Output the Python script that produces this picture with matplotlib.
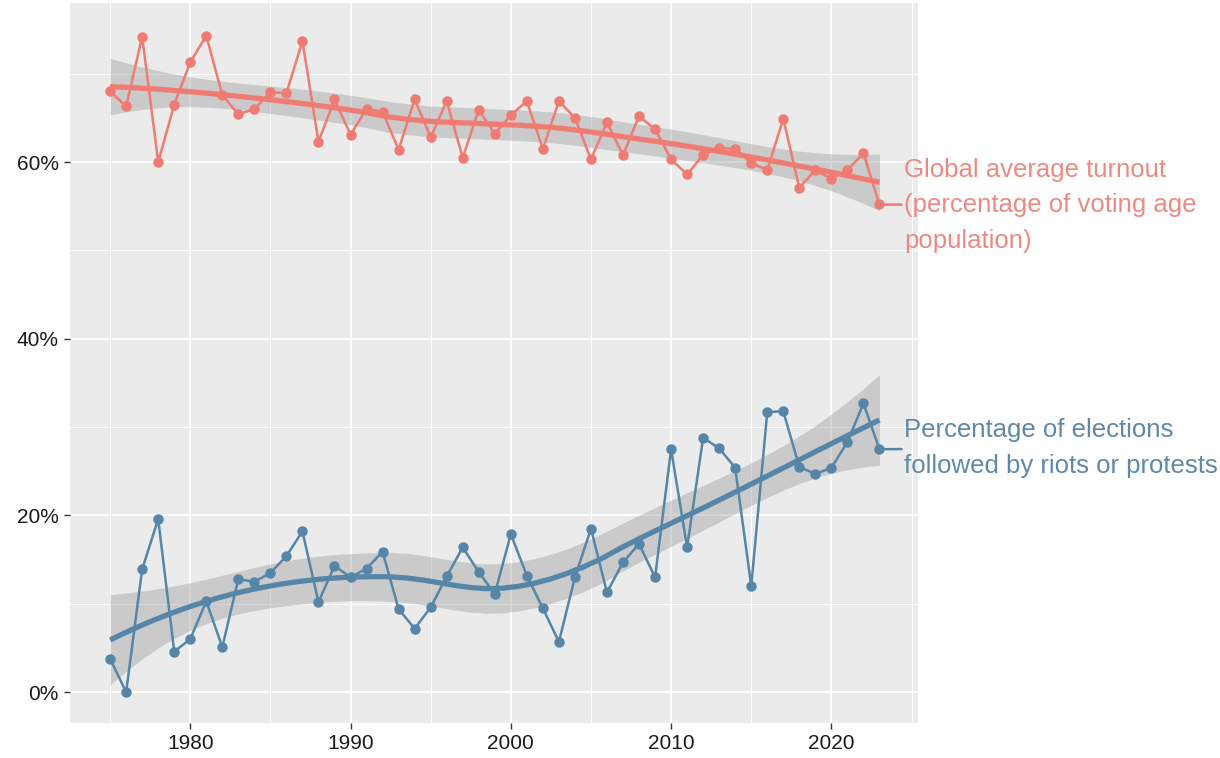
import numpy as np
import matplotlib
matplotlib.use("Agg")
import matplotlib.pyplot as plt
from matplotlib.ticker import MultipleLocator, FuncFormatter

plt.rcParams['font.family'] = ['Liberation Sans', 'DejaVu Sans']

years = list(range(1975, 2024))

turnout = [68.0, 66.3, 74.2, 60.0, 66.5, 71.3, 74.3, 67.6, 65.4, 66.0,
           67.9, 67.8, 73.7, 62.3, 67.1, 63.1, 66.0, 65.7, 61.4, 67.1,
           62.8, 66.9, 60.5, 65.9, 63.2, 65.3, 66.9, 61.5, 66.9, 65.0,
           60.3, 64.5, 60.8, 65.2, 63.7, 60.3, 58.6, 60.8, 61.6, 61.5,
           59.9, 59.1, 64.9, 57.1, 59.1, 58.1, 59.1, 61.0, 55.2]

protests = [3.8, 0.0, 13.9, 19.6, 4.6, 6.0, 10.3, 5.1, 12.8, 12.5,
            13.5, 15.4, 18.2, 10.2, 14.3, 13.0, 14.0, 15.9, 9.4, 7.2,
            9.6, 13.1, 16.4, 13.6, 11.1, 17.9, 13.2, 9.5, 5.7, 13.0,
            18.5, 11.3, 14.7, 16.8, 13.0, 27.5, 16.4, 28.8, 27.6, 25.4,
            12.0, 31.7, 31.8, 25.5, 24.7, 25.4, 28.3, 32.7, 27.5]

labels = ["Global average turnout\n(percentage of voting age\npopulation)",
          "Percentage of elections\nfollowed by riots or protests"]
colors = ["#F07B72", "#5586A8"]
text_colors = ["#EA8A82", "#5F89A6"]


def loess_row(x, x0, span=0.75):
    n = len(x)
    q = int(np.floor(n * span))
    d = np.abs(x - x0)
    h = np.sort(d)[q - 1]
    w = np.clip(1 - (d / h) ** 3, 0, None) ** 3
    X = np.column_stack([np.ones(n), x - x0, (x - x0) ** 2])
    XtW = X.T * w
    A = np.linalg.solve(XtW @ X, XtW)
    return A[0]


def loess(x, y, grid):
    x = np.asarray(x, float)
    y = np.asarray(y, float)
    L = np.array([loess_row(x, xi) for xi in x])
    R = np.eye(len(x)) - L
    RR = R.T @ R
    delta1 = np.trace(RR)
    sigma = np.sqrt(np.sum((R @ y) ** 2) / delta1)
    rows = np.array([loess_row(x, g) for g in grid])
    fit = rows @ y
    se = sigma * np.sqrt(np.sum(rows ** 2, axis=1))
    return fit, fit - 2.02 * se, fit + 2.02 * se


fig = plt.figure(figsize=(12.2, 7.58), dpi=100)
ax = fig.add_axes([0.0574, 0.046, 0.695, 0.950])
ax.set_facecolor("#EBEBEB")

grid = np.linspace(1975, 2023, 120)
offsets = [-0.1, 0.13]
for i, series in enumerate([turnout, protests]):
    fit, lo, hi = loess(years, series, grid)
    ax.fill_between(grid, lo, hi, color="#999999", alpha=0.4, lw=0, zorder=2)
    ax.plot(years, series, color=colors[i], lw=1.8, zorder=3)
    ax.plot(years, series, "o", color=colors[i], ms=6.5, zorder=4)
    ax.plot(grid, fit, color=colors[i], lw=3.8, zorder=5, solid_capstyle="butt")
    ax.annotate(labels[i], xy=(years[-1], series[-1]),
                xytext=(years[-1] + 1.55, series[-1] + offsets[i]),
                textcoords="data", color=text_colors[i], fontsize=18.5,
                va="center", ha="left", linespacing=1.62,
                arrowprops=dict(arrowstyle="-", color=colors[i], lw=1.8,
                                shrinkA=0, shrinkB=2),
                annotation_clip=False, zorder=6)

ax.set_xlim(1972.5, 2025.4)
ax.set_ylim(-3.5, 78.0)
ax.xaxis.set_major_locator(MultipleLocator(10))
ax.xaxis.set_minor_locator(MultipleLocator(5))
ax.yaxis.set_major_locator(MultipleLocator(20))
ax.yaxis.set_minor_locator(MultipleLocator(10))
ax.yaxis.set_major_formatter(FuncFormatter(lambda v, p: f"{v:.0f}%"))
ax.grid(which="major", color="white", lw=1.3, zorder=0)
ax.grid(which="minor", color="white", lw=0.7, zorder=0)
ax.set_axisbelow(True)
for s in ax.spines.values():
    s.set_visible(False)
ax.tick_params(which="major", length=4, width=1, color="#333333",
               labelcolor="#1A1A1A", labelsize=15, pad=4)
ax.tick_params(which="minor", length=0)

fig.savefig("out.png", dpi=100)
